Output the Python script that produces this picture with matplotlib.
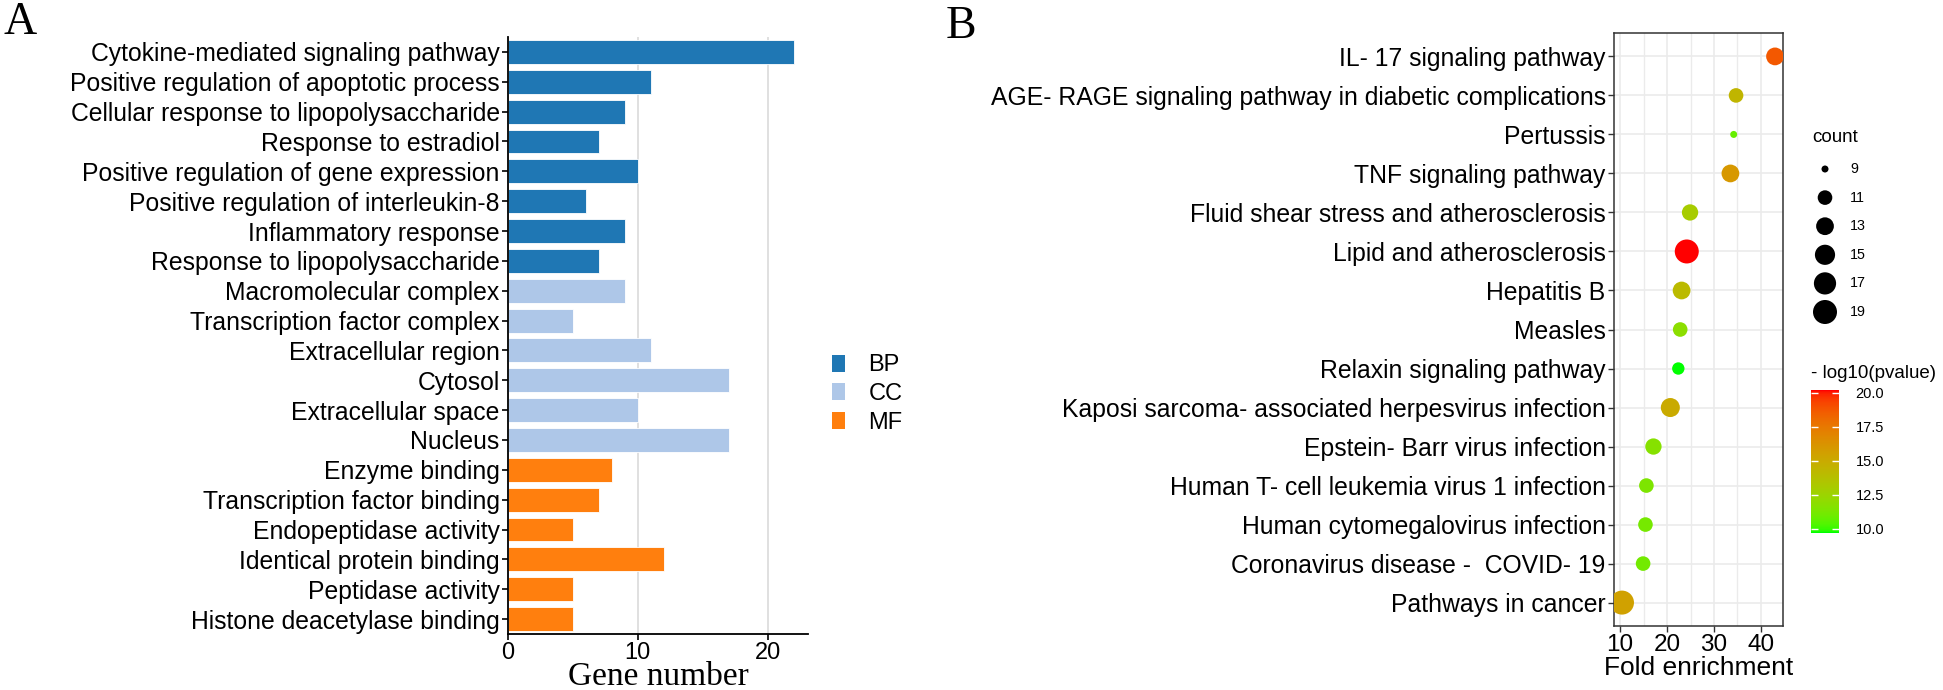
import numpy as np
import matplotlib
matplotlib.use("Agg")
import matplotlib.pyplot as plt
from matplotlib.patches import Patch
from matplotlib.colors import ListedColormap, Normalize
import matplotlib.cm as cm

plt.rcParams['font.family'] = ['Liberation Sans', 'DejaVu Sans']

# ---------------- Data: panel A (GO) ----------------
go_terms = [
    "Cytokine-mediated signaling pathway",
    "Positive regulation of apoptotic process",
    "Cellular response to lipopolysaccharide",
    "Response to estradiol",
    "Positive regulation of gene expression",
    "Positive regulation of interleukin-8",
    "Inflammatory response",
    "Response to lipopolysaccharide",
    "Macromolecular complex",
    "Transcription factor complex",
    "Extracellular region",
    "Cytosol",
    "Extracellular space",
    "Nucleus",
    "Enzyme binding",
    "Transcription factor binding",
    "Endopeptidase activity",
    "Identical protein binding",
    "Peptidase activity",
    "Histone deacetylase binding",
]
go_counts = [22, 11, 9, 7, 10, 6, 9, 7, 9, 5, 11, 17, 10, 17, 8, 7, 5, 12, 5, 5]
go_class = ["BP"] * 8 + ["CC"] * 6 + ["MF"] * 6
class_names = ["BP", "CC", "MF"]
class_colors = {"BP": "#1f77b4", "CC": "#aec7e8", "MF": "#ff7f0e"}
go_xticks = [0, 10, 20]

# ---------------- Data: panel B (KEGG) ----------------
kegg_terms = [
    "IL- 17 signaling pathway",
    "AGE- RAGE signaling pathway in diabetic complications",
    "Pertussis",
    "TNF signaling pathway",
    "Fluid shear stress and atherosclerosis",
    "Lipid and atherosclerosis",
    "Hepatitis B",
    "Measles",
    "Relaxin signaling pathway",
    "Kaposi sarcoma- associated herpesvirus infection",
    "Epstein- Barr virus infection",
    "Human T- cell leukemia virus 1 infection",
    "Human cytomegalovirus infection",
    "Coronavirus disease -  COVID- 19",
    "Pathways in cancer",
]
kegg_fold = [43.0, 34.7, 34.2, 33.5, 24.9, 24.2, 23.1, 22.8, 22.4, 20.7, 17.1, 15.6, 15.4, 14.9, 10.4]
kegg_count = [13, 11, 9, 13, 12, 19, 13, 11, 10, 14, 12, 11, 11, 11, 19]
kegg_logp = [18.7, 14.4, 10.8, 16.0, 13.0, 20.2, 14.1, 11.9, 9.7, 15.0, 11.7, 11.4, 11.2, 11.1, 15.5]
fold_ticks = [10, 20, 30, 40]
count_breaks = [9, 11, 13, 15, 17, 19]
logp_breaks = [10.0, 12.5, 15.0, 17.5, 20.0]

# ---------------- helpers ----------------
W, H, DPI = 1943, 690, 100


def fx(px):
    return px / W


def fy(py):
    return 1 - py / H


def srgb_to_lab(rgb):
    rgb = np.asarray(rgb, float)
    lin = np.where(rgb <= 0.04045, rgb / 12.92, ((rgb + 0.055) / 1.055) ** 2.4)
    M = np.array([[0.4124, 0.3576, 0.1805], [0.2126, 0.7152, 0.0722], [0.0193, 0.1192, 0.9505]])
    xyz = M @ lin
    white = np.array([0.95047, 1.0, 1.08883])
    t = xyz / white
    f = np.where(t > (6 / 29) ** 3, np.cbrt(t), t / (3 * (6 / 29) ** 2) + 4 / 29)
    return np.array([116 * f[1] - 16, 500 * (f[0] - f[1]), 200 * (f[1] - f[2])])


def lab_to_srgb(lab):
    L, a, b = lab
    fy_ = (L + 16) / 116
    fx_ = fy_ + a / 500
    fz_ = fy_ - b / 200
    def finv(f):
        return np.where(f > 6 / 29, f ** 3, 3 * (6 / 29) ** 2 * (f - 4 / 29))
    white = np.array([0.95047, 1.0, 1.08883])
    xyz = white * np.array([finv(fx_), finv(fy_), finv(fz_)])
    Minv = np.array([[3.2406, -1.5372, -0.4986], [-0.9689, 1.8758, 0.0415], [0.0557, -0.2040, 1.0570]])
    lin = Minv @ xyz
    lin = np.clip(lin, 0, 1)
    rgb = np.where(lin <= 0.0031308, 12.92 * lin, 1.055 * lin ** (1 / 2.4) - 0.055)
    return np.clip(rgb, 0, 1)


lab_lo = srgb_to_lab([0, 1, 0])
lab_hi = srgb_to_lab([1, 0, 0])
cols = [lab_to_srgb(lab_lo + (lab_hi - lab_lo) * t) for t in np.linspace(0, 1, 256)]
cmap = ListedColormap(cols)
norm = Normalize(vmin=min(kegg_logp), vmax=max(kegg_logp))


def diam_px(c):
    lo, hi = min(count_breaks), max(count_breaks)
    return 7 + 17 * np.sqrt((np.asarray(c, float) - lo) / (hi - lo))


def s_of(c):
    return (diam_px(c) * 72 / DPI) ** 2


fig = plt.figure(figsize=(W / DPI, H / DPI), dpi=DPI)

# ---------------- Panel A ----------------
ax1 = fig.add_axes([fx(508), fy(634), fx(808) - fx(508), fy(37) - fy(634)])
ypos = np.arange(len(go_terms))
ax1.barh(ypos, go_counts, height=0.8, color=[class_colors[c] for c in go_class],
         edgecolor="white", linewidth=0.6, zorder=2)
ax1.set_yticks(ypos)
ax1.set_yticklabels(go_terms, fontsize=17.8)
ax1.set_ylim(len(go_terms) - 0.5, -0.5)
ax1.set_xlim(0, 23.1)
ax1.set_xticks(go_xticks)
ax1.set_xticklabels([str(v) for v in go_xticks], fontsize=17)
ax1.xaxis.grid(True, color="#dddddd", linewidth=1.3, zorder=0)
ax1.set_axisbelow(True)
for s in ["top", "right"]:
    ax1.spines[s].set_visible(False)
for s in ["left", "bottom"]:
    ax1.spines[s].set_linewidth(1.3)
    ax1.spines[s].set_color("black")
ax1.tick_params(axis="both", length=4, width=1.2, pad=2)
ax1.set_xlabel("Gene number", fontsize=24, family=["Liberation Serif", "DejaVu Serif"], labelpad=-2)

handles = [Patch(facecolor=class_colors[c], edgecolor="none", label=c) for c in class_names]
leg = fig.legend(handles=handles, loc="center left", bbox_to_anchor=(fx(832), fy(394)),
                 frameon=False, fontsize=17, handlelength=0.55, handleheight=0.75,
                 handletextpad=1.0, labelspacing=0.28, borderpad=0, borderaxespad=0)

fig.text(fx(3), fy(2), "A", fontsize=33, family=["Liberation Serif", "DejaVu Serif"], va="top", ha="left")
fig.text(fx(946), fy(6), "B", fontsize=33, family=["Liberation Serif", "DejaVu Serif"], va="top", ha="left")

# ---------------- Panel B ----------------
ax2 = fig.add_axes([fx(1614), fy(626), fx(1783) - fx(1614), fy(33) - fy(626)])
yk = np.arange(len(kegg_terms))
ax2.set_xlim(8.7, 44.7)
ax2.set_ylim(len(kegg_terms) - 1 + 0.6, -0.6)
ax2.set_xticks(fold_ticks)
ax2.set_xticks([15, 25, 35], minor=True)
ax2.set_xticklabels([str(v) for v in fold_ticks], fontsize=17.5)
ax2.set_yticks(yk)
ax2.set_yticklabels(kegg_terms, fontsize=17.8)
ax2.grid(True, which="major", color="#ebebeb", linewidth=1.2, zorder=0)
ax2.xaxis.grid(True, which="minor", color="#ebebeb", linewidth=1.0, zorder=0)
ax2.set_axisbelow(True)
for s in ax2.spines.values():
    s.set_color("#333333")
    s.set_linewidth(1.1)
ax2.tick_params(axis="both", which="major", length=4, width=1.0, color="#333333", pad=2, labelcolor="black")
ax2.tick_params(axis="x", which="minor", length=0)
ax2.scatter(kegg_fold, yk, s=s_of(kegg_count), c=kegg_logp, cmap=cmap, norm=norm,
            edgecolors="none", zorder=3)
ax2.set_xlabel("Fold enrichment", fontsize=19, labelpad=0)

# size legend
lax = fig.add_axes([0, 0, 1, 1], facecolor="none")
lax.set_xlim(0, W)
lax.set_ylim(H, 0)
lax.axis("off")
lax.text(1812, 137, "count", fontsize=13.5, va="center", ha="left")
ly = [169 + i * 28.6 for i in range(len(count_breaks))]
lax.scatter([1825] * len(count_breaks), ly, s=s_of(count_breaks), color="black", edgecolors="none")
for yv, c in zip(ly, count_breaks):
    lax.text(1850, yv, str(c), fontsize=10.3, va="center", ha="left")
lax.text(1811, 373, "- log10(pvalue)", fontsize=13.5, va="center", ha="left")

# colourbar
cax = fig.add_axes([fx(1811), fy(533), fx(1839) - fx(1811), fy(390) - fy(533)])
cb = fig.colorbar(cm.ScalarMappable(norm=norm, cmap=cmap), cax=cax)
cb.outline.set_visible(False)
cb.set_ticks(logp_breaks)
cb.set_ticklabels([f"{v:.1f}" for v in logp_breaks])
cax.tick_params(axis="y", direction="in", length=5, width=1.0, color="white",
                labelsize=10.5, pad=12, left=True, right=True)

fig.savefig("out.png", dpi=DPI)
